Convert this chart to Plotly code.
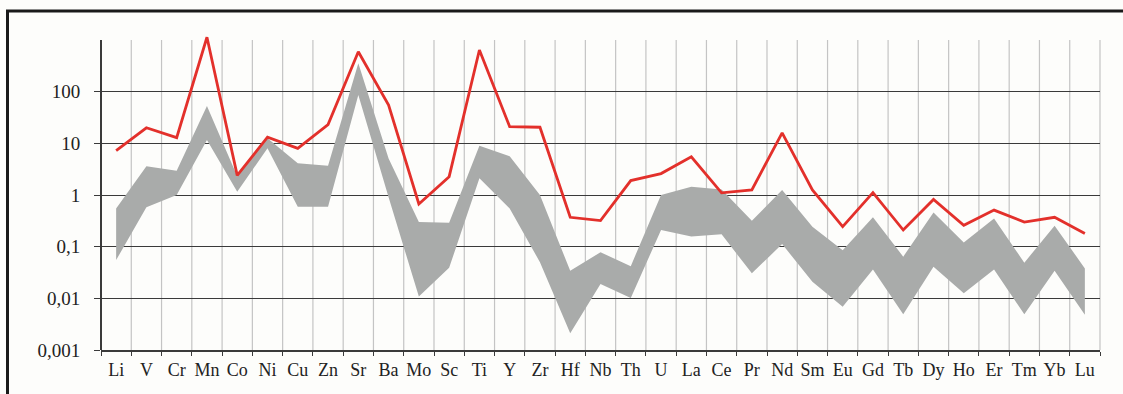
import plotly.graph_objects as go

elements = ["Li", "V", "Cr", "Mn", "Co", "Ni", "Cu", "Zn", "Sr", "Ba", "Mo", "Sc", "Ti", "Y",
            "Zr", "Hf", "Nb", "Th", "U", "La", "Ce", "Pr", "Nd", "Sm", "Eu", "Gd", "Tb", "Dy",
            "Ho", "Er", "Tm", "Yb", "Lu"]

sample = [7.2, 20, 12.9, 1130, 2.4, 13.2, 8.0, 23, 594, 55, 0.67, 2.26, 640, 21,
          20.5, 0.37, 0.32, 1.9, 2.6, 5.5, 1.1, 1.25, 16, 1.25, 0.244, 1.11, 0.21, 0.82,
          0.26, 0.51, 0.30, 0.37, 0.18]

band_upper = [0.55, 3.6, 2.95, 53, 2.3, 12.5, 4.1, 3.7, 353, 5.1, 0.30, 0.29, 9.0, 5.6,
              1.0, 0.034, 0.078, 0.042, 1.0, 1.45, 1.28, 0.316, 1.25, 0.244, 0.085, 0.37, 0.064, 0.46,
              0.12, 0.35, 0.049, 0.255, 0.038]

band_lower = [0.055, 0.58, 1.0, 11.6, 1.16, 8.0, 0.59, 0.59, 86, 0.9, 0.0108, 0.039, 2.1, 0.55,
              0.05, 0.0021, 0.019, 0.0102, 0.21, 0.158, 0.173, 0.0305, 0.112, 0.021, 0.0069, 0.036, 0.0049, 0.041,
              0.0125, 0.036, 0.0049, 0.034, 0.0048]

ytick_vals = [0.001, 0.01, 0.1, 1, 10, 100]
ytick_text = ["0,001", "0,01", "0,1", "1", "10", "100"]

# layout geometry (pixels)
W, H = 1123, 394
PL, PR = 101, 1100           # plot left/right
PB = 350                     # plot bottom (0.001)
DEC = 310 / 6                # pixels per decade
YTOP = 3 + 4 / DEC           # small headroom above 1000
PT = PB - DEC * (YTOP + 3)   # plot top pixel

def xp(px):
    return (px - PL) / (PR - PL)

def yp(py):
    return (PB - py) / (PB - PT)

serif = "Liberation Serif, Times New Roman, serif"
dark = "#3a3a3a"

fig = go.Figure()
fig.add_trace(go.Scatter(x=elements, y=band_lower, mode="lines", line=dict(width=0),
                         hoverinfo="skip", showlegend=False))
fig.add_trace(go.Scatter(x=elements, y=band_upper, mode="lines", line=dict(width=0),
                         fill="tonexty", fillcolor="#a9abaa", showlegend=False))
fig.add_trace(go.Scatter(x=elements, y=sample, mode="lines",
                         line=dict(color="#e3302b", width=2.8), showlegend=False))

shapes = []
top_dom = 6 / (YTOP + 3)
shapes.append(dict(type="line", xref="x domain", yref="y domain", x0=0, x1=0, y0=0, y1=top_dom,
                   line=dict(color=dark, width=2), layer="above"))
n = len(elements)
for i in range(1, n + 1):
    shapes.append(dict(type="line", xref="x domain", yref="y domain", x0=i / n, x1=i / n,
                       y0=0, y1=top_dom, line=dict(color="#c4c4c4", width=1.2), layer="below"))
shapes.append(dict(type="line", xref="paper", yref="paper", x0=xp(7.5), x1=xp(7.5),
                   y0=yp(H + 5), y1=yp(11), line=dict(color="#1a1a1a", width=3)))
shapes.append(dict(type="line", xref="paper", yref="paper", x0=xp(6), x1=xp(W + 5),
                   y0=yp(11), y1=yp(11), line=dict(color="#1a1a1a", width=3)))

fig.update_layout(
    width=W, height=H,
    margin=dict(l=PL, r=W - PR, t=PT, b=H - PB, pad=0, autoexpand=False),
    paper_bgcolor="#fdfdfb", plot_bgcolor="#fdfdfb",
    shapes=shapes,
    xaxis=dict(type="category", range=[-0.5, n - 0.5], tickson="boundaries",
               showgrid=False, ticks="outside", ticklen=4, tickwidth=1.2, tickcolor=dark,
               showline=True, linecolor=dark, linewidth=1.5, tickangle=0, automargin=False,
               tickfont=dict(family=serif, size=18, color="#222"),
               ticklabelstandoff=3, zeroline=False),
    yaxis=dict(type="log", range=[-3, YTOP], tickvals=ytick_vals, ticktext=ytick_text,
               showgrid=True, gridcolor=dark, gridwidth=1.4, automargin=False,
               ticks="outside", ticklen=6, tickwidth=1.4, tickcolor=dark,
               showline=False, zeroline=False,
               tickfont=dict(family=serif, size=19, color="#222"),
               ticklabelstandoff=10),
)

fig.write_html("out.html", config={"displayModeBar": False},
               post_script="document.body.style.margin='0';document.body.style.background='#fdfdfb';")
